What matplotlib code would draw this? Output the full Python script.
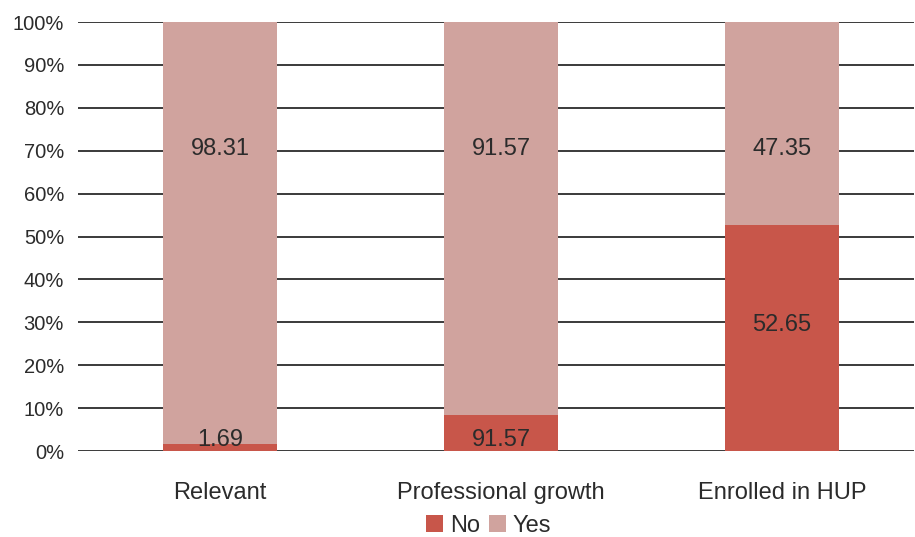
import matplotlib.pyplot as plt

plt.rcParams["font.family"] = ["Liberation Sans", "DejaVu Sans"]

categories = ["Relevant", "Professional growth", "Enrolled in HUP"]
no_values = [1.69, 8.43, 52.65]
yes_values = [98.31, 91.57, 47.35]
# labels as printed in the source chart
no_labels = ["1.69", "91.57", "52.65"]
yes_labels = ["98.31", "91.57", "47.35"]

no_color = "#C8564A"
yes_color = "#D0A39E"
text_color = "#2B2B2B"

fig = plt.figure(figsize=(9.15, 5.37), dpi=100)
ax = fig.add_axes([0.0852, 0.160, 0.914, 0.799])

x = range(len(categories))
width = 0.405

# grid lines behind the bars
for y in range(0, 101, 10):
    ax.axhline(y, color="#3A3A3A", lw=1.4, zorder=0)

bars_no = ax.bar(x, no_values, width, color=no_color, label="No", zorder=2)
bars_yes = ax.bar(x, yes_values, width, bottom=no_values, color=yes_color,
                  label="Yes", zorder=2)

# label placement in the source is fixed rather than centred
for i in x:
    ax.text(i, 70.5, yes_labels[i], ha="center", va="center", fontsize=17,
            color=text_color, zorder=3)
    ny = 29.5 if no_values[i] > 20 else 2.5
    ax.text(i, ny, no_labels[i], ha="center", va="center", fontsize=17,
            color=text_color, zorder=3)

ax.set_xlim(-0.505, 2.47)
ax.set_ylim(0, 100)
ax.set_yticks(range(0, 101, 10))
ax.set_yticklabels([f"{v}%" for v in range(0, 101, 10)])
ax.set_xticks(list(x))
ax.set_xticklabels(categories)
ax.tick_params(axis="y", length=0, pad=10, labelsize=14.5, labelcolor=text_color)
ax.tick_params(axis="x", length=0, pad=22, labelsize=17, labelcolor=text_color)
for s in ax.spines.values():
    s.set_visible(False)

fig.legend(handles=[bars_no, bars_yes], labels=["No", "Yes"], loc="center",
           bbox_to_anchor=(0.534, 0.021), ncol=2, frameon=False, fontsize=17,
           handlelength=0.7, handleheight=0.7, handletextpad=0.3,
           columnspacing=0.4, labelcolor=text_color, borderpad=0)

fig.savefig("out.png", dpi=100)
